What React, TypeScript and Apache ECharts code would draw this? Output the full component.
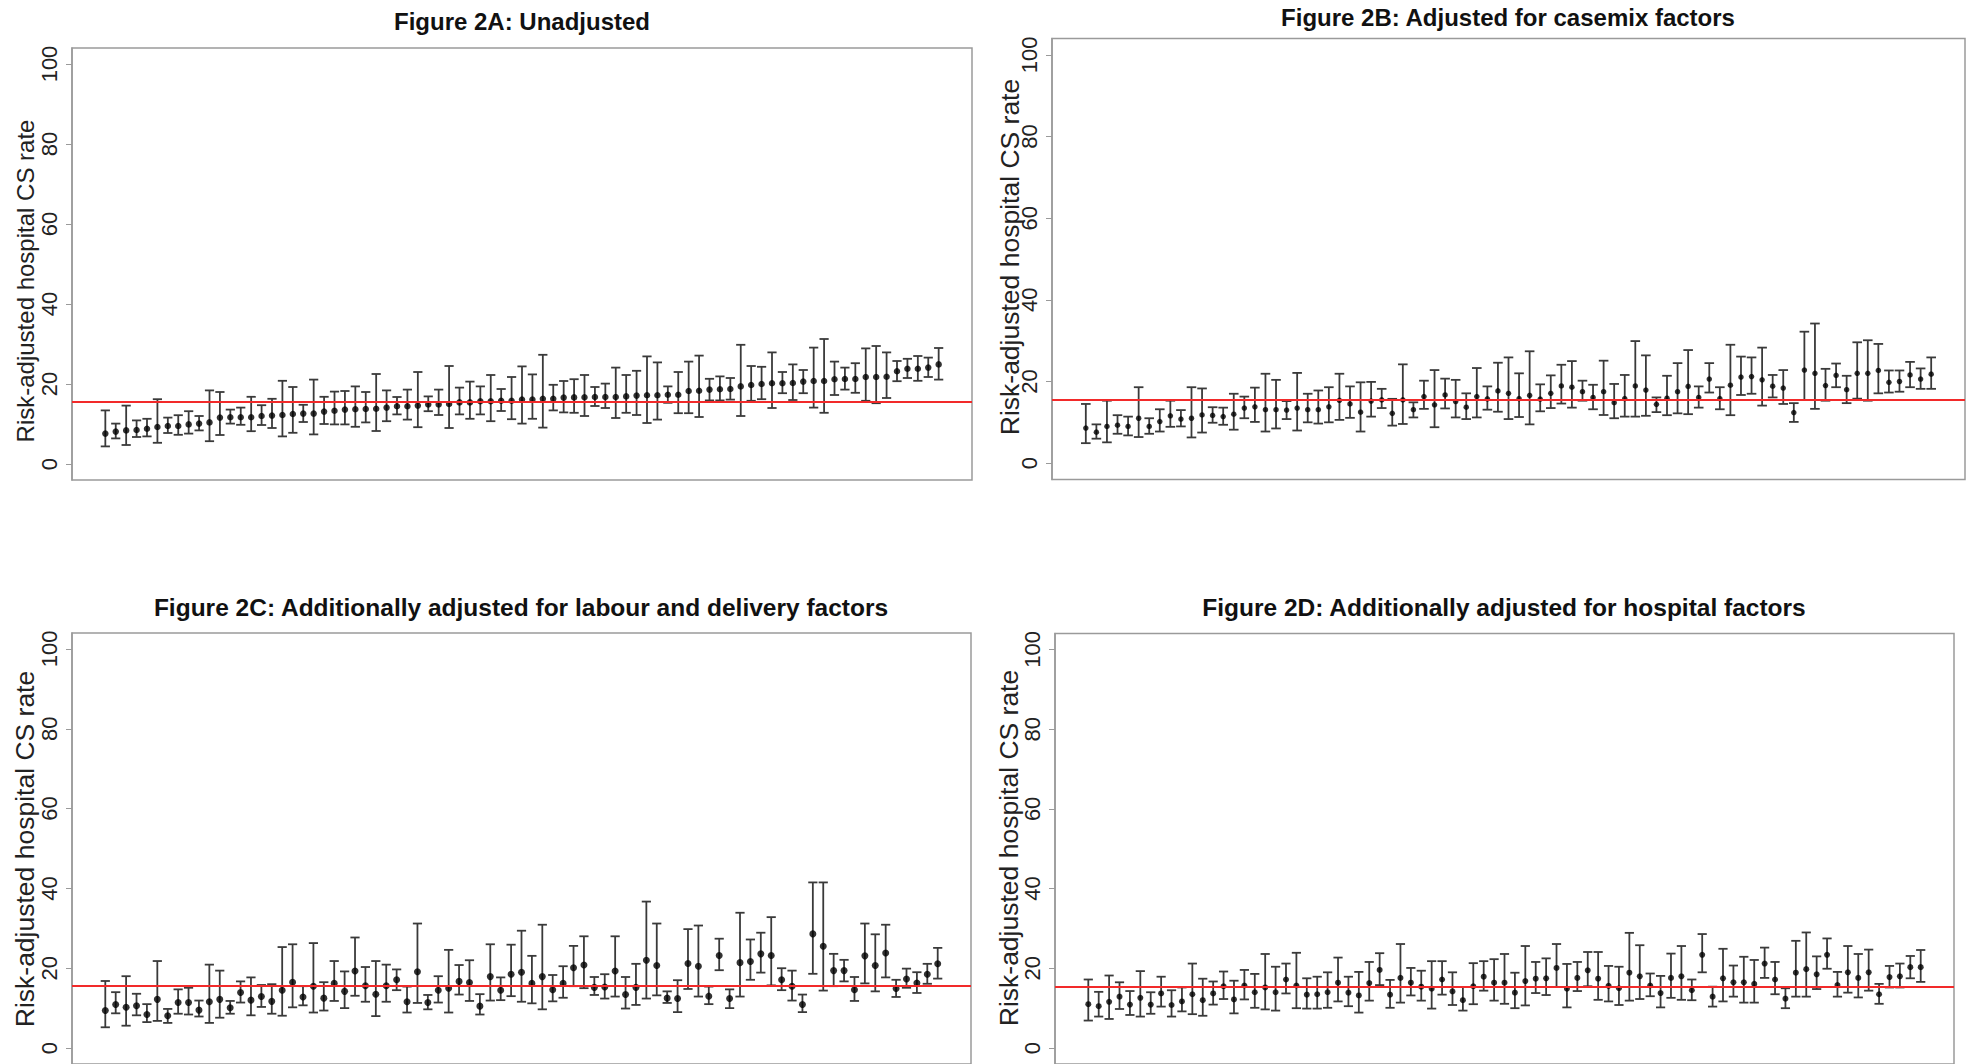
import React, { useEffect, useRef } from "react";
import * as echarts from "echarts";

// ---------- Data ----------
const yTicks = [0, 20, 40, 60, 80, 100];
const refLine = 15.5;

const titles = [
  "Figure 2A: Unadjusted",
  "Figure 2B: Adjusted for casemix factors",
  "Figure 2C: Additionally adjusted for labour and delivery factors",
  "Figure 2D: Additionally adjusted for hospital factors",
];
const yAxisTitle = "Risk-adjusted hospital CS rate";

const estA = [7.6, 8.1, 8.4, 8.5, 8.8, 9.25, 9.5, 9.5, 9.9, 10.1, 10.4, 11.6, 11.7, 11.7, 11.7, 12.0, 12.1, 12.25, 12.5, 12.6, 12.6, 13.1, 13.3, 13.6, 13.7, 13.75, 13.8, 14.1, 14.45, 14.45, 14.6, 14.9, 14.9, 15.0, 15.4, 15.4, 15.7, 15.7, 15.8, 15.8, 16.1, 16.1, 16.3, 16.3, 16.6, 16.65, 16.7, 16.75, 16.75, 16.75, 16.9, 17.1, 17.2, 17.2, 17.3, 17.3, 18.25, 18.3, 18.6, 18.7, 18.75, 19.4, 19.75, 20.0, 20.2, 20.2, 20.25, 20.6, 20.75, 20.75, 21.2, 21.25, 21.25, 21.75, 21.75, 21.8, 23.2, 23.8, 23.8, 24.1, 24.9];
const loA = [4.4, 6.4, 4.75, 6.75, 6.9, 5.3, 7.75, 7.3, 7.6, 8.4, 5.7, 7.25, 10.1, 9.8, 8.2, 9.75, 9.0, 6.9, 7.8, 10.5, 7.4, 10.0, 9.9, 9.9, 9.3, 10.4, 8.25, 10.7, 12.4, 11.1, 9.2, 13.2, 12.25, 9.0, 12.4, 11.3, 12.4, 10.7, 13.25, 11.2, 10.1, 11.3, 9.1, 13.4, 12.9, 12.8, 12.0, 14.5, 14.0, 11.5, 12.8, 12.25, 10.25, 11.1, 15.3, 12.7, 12.7, 11.75, 15.9, 15.9, 16.1, 12.0, 15.8, 16.2, 14.0, 17.7, 16.0, 17.7, 14.1, 12.8, 17.25, 18.6, 17.8, 15.8, 15.2, 16.5, 20.7, 21.5, 20.8, 21.75, 21.1];
const hiA = [13.4, 10.1, 14.6, 10.9, 11.3, 16.2, 11.6, 12.2, 13.2, 12.0, 18.4, 18.0, 13.6, 14.1, 16.8, 14.7, 16.3, 20.8, 19.25, 14.8, 21.1, 16.8, 18.1, 18.25, 19.4, 18.0, 22.5, 18.4, 16.75, 18.6, 23.0, 16.9, 18.6, 24.5, 19.1, 20.6, 19.4, 22.25, 18.75, 21.75, 24.4, 22.4, 27.3, 19.8, 20.75, 21.2, 22.25, 19.25, 20.1, 24.1, 22.25, 23.3, 26.9, 25.4, 19.4, 23.0, 25.6, 27.1, 21.3, 21.9, 21.5, 29.8, 24.5, 24.3, 27.9, 23.0, 24.9, 23.5, 29.1, 31.25, 25.6, 24.1, 25.2, 28.9, 29.5, 27.9, 25.75, 26.3, 27.0, 26.6, 29.0];

const estB = [8.6, 7.6, 9.0, 9.3, 9.0, 11.0, 9.0, 10.2, 11.6, 10.8, 11.0, 11.8, 11.7, 11.4, 12.0, 13.5, 13.8, 13.1, 13.1, 13.0, 13.5, 13.1, 13.1, 13.8, 15.4, 14.5, 12.5, 15.2, 15.5, 12.2, 15.5, 13.1, 16.3, 14.3, 16.7, 15.1, 13.7, 16.3, 15.75, 17.7, 17.1, 15.8, 16.6, 15.7, 17.1, 18.9, 18.6, 17.5, 16.1, 17.5, 14.8, 15.8, 18.9, 17.9, 14.4, 15.9, 17.5, 18.8, 16.1, 20.6, 15.8, 19.1, 21.1, 21.2, 20.4, 18.85, 18.4, 12.4, 22.8, 22.0, 19.0, 21.5, 18.0, 22.0, 22.0, 22.7, 19.8, 20.0, 21.6, 20.6, 21.8];
const loB = [4.9, 6.0, 5.1, 7.2, 6.8, 6.4, 7.2, 7.75, 8.9, 9.0, 6.3, 7.5, 9.9, 9.4, 8.2, 11.0, 10.1, 7.75, 8.5, 10.8, 8.0, 10.0, 9.7, 10.0, 10.6, 11.1, 7.75, 11.4, 13.5, 9.2, 9.6, 11.2, 13.3, 8.8, 13.4, 11.2, 10.8, 11.2, 13.1, 12.6, 10.8, 11.3, 9.5, 12.7, 13.5, 14.6, 13.6, 15.3, 13.2, 11.8, 11.0, 11.4, 11.4, 11.6, 12.5, 11.75, 12.2, 12.0, 13.6, 17.3, 13.2, 11.75, 16.7, 17.0, 14.1, 16.1, 14.5, 10.1, 15.5, 13.3, 15.3, 18.6, 14.7, 15.8, 15.3, 17.1, 17.3, 17.5, 18.6, 18.2, 18.2];
const hiB = [14.5, 9.5, 15.3, 11.75, 11.4, 18.6, 11.0, 13.2, 15.3, 13.0, 18.6, 18.3, 13.7, 13.6, 17.0, 16.3, 18.5, 21.9, 20.4, 15.2, 22.1, 17.0, 17.8, 18.6, 21.9, 18.8, 19.8, 19.9, 18.2, 15.75, 24.2, 14.9, 20.2, 22.8, 20.7, 20.4, 17.1, 23.3, 18.8, 24.6, 25.9, 22.0, 27.4, 19.3, 21.5, 24.1, 25.0, 20.2, 19.2, 25.1, 19.4, 21.6, 29.9, 26.4, 16.1, 21.4, 24.5, 27.7, 18.8, 24.5, 18.6, 29.0, 26.1, 25.9, 28.3, 21.6, 22.8, 14.7, 32.2, 34.2, 23.1, 24.4, 21.4, 29.6, 30.1, 29.2, 22.7, 22.7, 24.8, 23.2, 25.9];

const estC = [9.4, 10.9, 10.2, 10.6, 8.4, 12.2, 8.1, 11.4, 11.4, 9.5, 11.6, 12.2, 10.1, 13.9, 12.0, 12.9, 11.7, 14.5, 16.5, 12.8, 15.5, 12.5, 16.2, 14.2, 19.3, 15.6, 13.5, 15.6, 17.1, 11.6, 19.1, 11.4, 14.5, 15.0, 16.7, 16.4, 10.5, 17.9, 14.5, 18.5, 19.0, 16.2, 17.9, 14.6, 16.2, 20.1, 20.8, 15.2, 15.3, 19.3, 13.4, 15.2, 22.0, 20.7, 12.5, 12.4, 21.2, 20.5, 13.0, 23.2, 12.4, 21.4, 21.7, 23.6, 23.2, 17.1, 15.5, 10.9, 28.6, 25.5, 19.4, 19.4, 14.6, 23.1, 20.7, 23.8, 14.9, 17.3, 16.3, 18.5, 21.1];
const loC = [5.2, 8.7, 5.6, 8.2, 6.5, 6.8, 6.3, 8.6, 8.4, 7.9, 6.3, 7.6, 8.6, 11.4, 8.2, 10.3, 8.6, 8.1, 10.2, 10.7, 8.9, 9.4, 11.8, 10.0, 13.1, 11.6, 8.0, 11.6, 14.5, 8.9, 11.3, 9.7, 11.4, 8.9, 13.4, 11.8, 8.4, 11.9, 12.0, 13.0, 11.6, 11.2, 9.7, 11.7, 12.6, 15.5, 15.0, 13.3, 12.4, 12.9, 9.9, 10.8, 12.4, 13.2, 11.3, 9.0, 14.8, 12.9, 11.0, 19.5, 10.0, 12.9, 17.1, 18.9, 15.7, 14.5, 11.9, 9.0, 18.6, 14.4, 15.5, 16.7, 11.8, 16.2, 14.2, 17.7, 12.8, 15.1, 13.8, 16.1, 17.4];
const hiC = [16.8, 14.0, 18.0, 13.6, 11.0, 21.8, 9.8, 14.7, 15.1, 11.9, 20.9, 19.4, 11.8, 16.7, 17.7, 15.8, 16.0, 25.3, 26.0, 15.5, 26.3, 16.5, 21.8, 19.2, 27.7, 20.3, 21.8, 20.9, 19.7, 15.4, 31.2, 13.3, 18.0, 24.6, 20.8, 22.0, 13.5, 26.0, 17.7, 25.9, 29.4, 23.1, 30.9, 18.3, 20.5, 25.6, 28.0, 17.8, 18.5, 28.0, 17.8, 21.1, 36.7, 31.2, 14.2, 17.0, 29.8, 30.7, 15.4, 27.4, 14.7, 33.9, 27.2, 28.9, 32.8, 20.0, 19.4, 13.4, 41.5, 41.5, 23.6, 22.1, 17.8, 31.2, 28.5, 30.9, 17.1, 19.9, 19.0, 21.1, 25.1];

const estD = [11.0, 10.5, 11.6, 12.9, 10.9, 12.6, 10.9, 13.7, 10.8, 11.7, 13.5, 12.0, 13.7, 15.5, 12.2, 15.7, 14.0, 15.2, 14.0, 17.2, 15.7, 13.4, 13.5, 14.0, 16.4, 13.9, 13.2, 16.3, 19.6, 13.4, 17.6, 16.4, 15.4, 14.9, 17.2, 14.2, 12.0, 15.5, 17.9, 16.4, 16.4, 13.9, 16.8, 17.4, 17.5, 20.1, 14.9, 17.6, 19.5, 17.4, 15.6, 15.0, 18.9, 18.0, 15.7, 13.8, 17.6, 18.0, 14.5, 23.4, 12.9, 17.5, 16.5, 16.5, 16.1, 21.2, 17.2, 12.4, 18.9, 19.8, 18.5, 23.4, 15.8, 19.0, 17.6, 19.0, 13.5, 17.8, 18.0, 20.3, 20.3];
const loD = [6.9, 7.9, 7.3, 9.8, 8.3, 7.9, 8.6, 10.4, 7.9, 9.2, 8.5, 8.1, 10.9, 12.3, 8.7, 12.2, 10.1, 9.7, 9.4, 13.7, 10.0, 9.9, 9.9, 10.1, 11.7, 10.5, 8.9, 11.9, 15.8, 10.1, 11.4, 13.2, 11.9, 9.9, 13.4, 10.8, 9.4, 11.0, 14.4, 11.9, 11.1, 10.0, 10.7, 13.8, 13.3, 15.3, 10.2, 14.3, 15.5, 12.1, 11.7, 10.8, 11.9, 12.3, 13.0, 10.2, 12.6, 12.1, 12.0, 19.0, 10.4, 11.7, 12.9, 11.4, 11.4, 17.6, 13.5, 10.0, 12.9, 12.9, 14.8, 19.9, 12.9, 13.9, 12.7, 14.4, 11.1, 15.2, 15.2, 17.5, 16.6];
const hiD = [17.2, 14.1, 18.2, 16.5, 14.3, 19.3, 14.0, 17.9, 14.5, 15.2, 21.2, 17.4, 16.7, 19.2, 16.9, 19.6, 18.6, 23.6, 20.4, 21.2, 23.9, 17.5, 17.9, 19.0, 22.7, 17.9, 19.1, 21.6, 23.8, 17.1, 26.1, 20.1, 19.4, 21.8, 21.8, 19.0, 15.3, 21.3, 21.8, 22.3, 23.6, 18.9, 25.6, 21.6, 22.5, 26.1, 21.1, 21.6, 24.1, 24.1, 20.6, 20.4, 28.9, 25.8, 18.7, 18.1, 23.7, 25.6, 17.2, 28.6, 15.4, 24.9, 20.7, 22.9, 22.1, 25.2, 21.6, 15.0, 26.9, 29.0, 23.0, 27.5, 19.1, 25.6, 23.6, 24.7, 16.1, 20.6, 21.2, 23.1, 24.6];

const panels = [
  { est: estA, lo: loA, hi: hiA },
  { est: estB, lo: loB, hi: hiB },
  { est: estC, lo: loC, hi: hiC },
  { est: estD, lo: loD, hi: hiD },
];

// ---------- Layout / style ----------
const grids = [
  { left: 72, top: 48, width: 900, height: 432 },
  { left: 1052, top: 38.5, width: 913, height: 441 },
  { left: 72, top: 633, width: 899, height: 431 },
  { left: 1055, top: 633.5, width: 899, height: 430.5 },
];
const titlePos = [
  { x: 522, y: 21 },
  { x: 1508, y: 17.5 },
  { x: 521, y: 607 },
  { x: 1504, y: 607 },
];
const titleSizes = [24, 24, 24.5, 24.5];
const axisTitlePos = [
  { x: 25, y: 281, size: 24 },
  { x: 1010, y: 257, size: 26.5 },
  { x: 25, y: 849, size: 26.5 },
  { x: 1009, y: 848, size: 26.5 },
];
const symbolSizes = [6.5, 5.5, 7, 6];
const capHalf = [4.6, 4.8, 4.6, 4.6];
const FONT = '"Liberation Sans", Arial, sans-serif';

function buildOption() {
  const n = estA.length;
  const xMin = 1 - (n - 1) * 0.04;
  const xMax = n + (n - 1) * 0.04;
  const series: any[] = [];
  panels.forEach((p, k) => {
    const cap = capHalf[k];
    series.push({
      type: "custom",
      xAxisIndex: k,
      yAxisIndex: k,
      silent: true,
      encode: { x: 0, y: [1, 2] },
      data: p.est.map((_, i) => [i + 1, p.lo[i], p.hi[i]]),
      renderItem: (params: any, api: any) => {
        const x = api.value(0);
        const a = api.coord([x, api.value(1)]);
        const b = api.coord([x, api.value(2)]);
        const st = { stroke: "#3a3a3a", lineWidth: 1.8 };
        return {
          type: "group",
          children: [
            { type: "line", shape: { x1: a[0], y1: a[1], x2: b[0], y2: b[1] }, style: st },
            { type: "line", shape: { x1: a[0] - cap, y1: a[1], x2: a[0] + cap, y2: a[1] }, style: st },
            { type: "line", shape: { x1: b[0] - cap, y1: b[1], x2: b[0] + cap, y2: b[1] }, style: st },
          ],
        };
      },
    });
    series.push({
      type: "scatter",
      xAxisIndex: k,
      yAxisIndex: k,
      silent: true,
      symbol: "circle",
      symbolSize: symbolSizes[k],
      itemStyle: { color: "#000" },
      data: p.est.map((v, i) => [i + 1, v]),
      markLine: {
        silent: true,
        symbol: "none",
        label: { show: false },
        lineStyle: { color: "#f22a2a", width: 2, type: "solid" },
        data: [{ yAxis: refLine }],
      },
      z: 3,
    });
  });

  return {
    animation: false,
    backgroundColor: "#ffffff",
    title: titles.map((t, k) => ({
      text: t,
      left: titlePos[k].x,
      top: titlePos[k].y,
      padding: 0,
      textAlign: "center",
      textVerticalAlign: "middle",
      textStyle: { fontFamily: FONT, fontWeight: "bold", fontSize: titleSizes[k], color: "#111" },
    })),
    graphic: axisTitlePos.map((p) => ({
      type: "text",
      x: p.x,
      y: p.y,
      rotation: Math.PI / 2,
      silent: true,
      style: {
        text: yAxisTitle,
        font: `${p.size}px ${FONT}`,
        fill: "#222",
        align: "center",
        verticalAlign: "middle",
        textAlign: "center",
        textVerticalAlign: "middle",
      },
    })),
    grid: grids.map((g) => ({
      ...g,
      show: true,
      borderColor: "#9a9a9a",
      borderWidth: 1.5,
      backgroundColor: "transparent",
      containLabel: false,
    })),
    xAxis: grids.map((_, k) => ({
      type: "value",
      gridIndex: k,
      min: xMin,
      max: xMax,
      show: false,
    })),
    yAxis: grids.map((_, k) => ({
      type: "value",
      gridIndex: k,
      min: -4,
      max: 104,
      axisLine: { show: true, onZero: false, lineStyle: { color: "#9a9a9a", width: 1.5 } },
      axisTick: { show: true, length: 6, lineStyle: { color: "#9a9a9a" }, customValues: yTicks },
      axisLabel: {
        customValues: yTicks,
        rotate: 90,
        margin: 12,
        fontFamily: FONT,
        fontSize: 22,
        color: "#222",
      },
      splitLine: { show: false },
    })),
    series,
  };
}

export default function App() {
  const ref = useRef<HTMLDivElement>(null);
  useEffect(() => {
    if (!ref.current) return;
    const chart = echarts.init(ref.current, undefined, { renderer: "svg" });
    chart.setOption(buildOption() as any);
    return () => chart.dispose();
  }, []);
  return (
    <div
      ref={ref}
      style={{ position: "absolute", left: 0, top: 0, width: 1966, height: 1064, background: "#fff" }}
    />
  );
}
